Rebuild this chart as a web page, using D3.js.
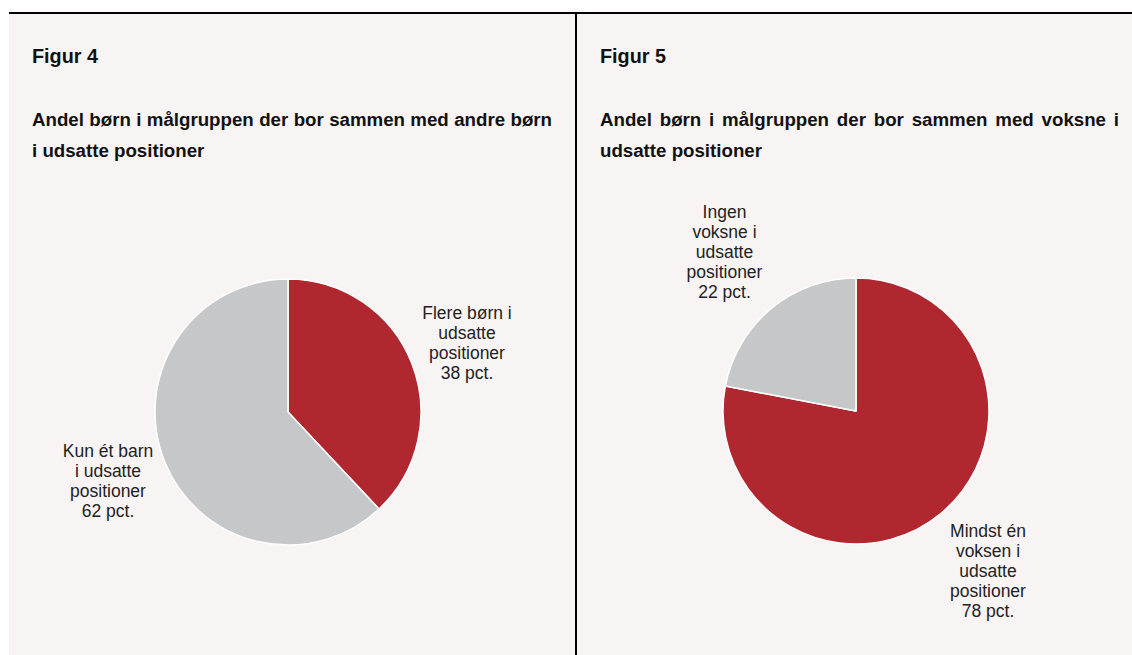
<!DOCTYPE html>
<html>
<head>
<meta charset="utf-8">
<script src="https://cdn.jsdelivr.net/npm/d3@7/dist/d3.min.js"></script>
<style>
  html, body { margin: 0; padding: 0; background: #ffffff; }
  svg { display: block; }
</style>
</head>
<body>
<svg id="chart" width="1132" height="655"></svg>
<script>
// ---- Data ----
const figureNames = ["Figur 4", "Figur 5"];
const figureTitles = [
  ["Andel børn i målgruppen der bor sammen med andre børn", "i udsatte positioner"],
  ["Andel børn i målgruppen der bor sammen med voksne i", "udsatte positioner"]
];
const fig4Categories = ["Flere børn i udsatte positioner", "Kun ét barn i udsatte positioner"];
const fig4Values = [38, 62];
const fig4Labels = [
  ["Flere børn i", "udsatte", "positioner", "38 pct."],
  ["Kun ét barn", "i udsatte", "positioner", "62 pct."]
];
const fig5Categories = ["Mindst én voksen i udsatte positioner", "Ingen voksne i udsatte positioner"];
const fig5Values = [78, 22];
const fig5Labels = [
  ["Mindst én", "voksen i", "udsatte", "positioner", "78 pct."],
  ["Ingen", "voksne i", "udsatte", "positioner", "22 pct."]
];
const sliceColors = ["#b0272f", "#c6c7c9"];

// ---- Layout ----
const svg = d3.select("#chart");
const W = 1132, H = 655;
const bg = "#f8f4f3";

svg.append("rect").attr("x", 9).attr("y", 13).attr("width", W - 9).attr("height", H - 13).attr("fill", bg);
svg.append("line").attr("x1", 9).attr("x2", W).attr("y1", 13).attr("y2", 13)
  .attr("stroke", "#000").attr("stroke-width", 2);
svg.append("line").attr("x1", 576).attr("x2", 576).attr("y1", 13).attr("y2", H)
  .attr("stroke", "#000").attr("stroke-width", 2);

const panels = [
  { x0: 32, right: 552, cx: 288, cy: 412, values: fig4Values, cats: fig4Categories, labels: fig4Labels,
    labelPos: [{x: 467, y: 319}, {x: 108, y: 457}] },
  { x0: 600, right: 1119, cx: 856, cy: 411, values: fig5Values, cats: fig5Categories, labels: fig5Labels,
    labelPos: [{x: 988, y: 537}, {x: 724.5, y: 218}] }
];

const radius = 133;
const pie = d3.pie().sort(null).value(d => d);
const arc = d3.arc().innerRadius(0).outerRadius(radius);
const font = "'Liberation Sans', Arial, Helvetica, sans-serif";

panels.forEach((p, i) => {
  const g = svg.append("g");
  g.append("text").attr("x", p.x0).attr("y", 63)
    .attr("font-family", font).attr("font-weight", "bold").attr("font-size", 19.8)
    .attr("fill", "#111").text(figureNames[i]);

  figureTitles[i].forEach((line, j) => {
    const t = g.append("text").attr("x", p.x0).attr("y", 126 + j * 31)
      .attr("font-family", font).attr("font-weight", "bold").attr("font-size", 18.7)
      .attr("fill", "#111").text(line);
    if (j === 0) {
      const words = line.split(" ").length - 1;
      const w = t.node().getComputedTextLength();
      const extra = (p.right - p.x0 - w) / words;
      t.attr("word-spacing", extra);
    }
  });

  const pg = g.append("g").attr("transform", `translate(${p.cx},${p.cy})`);
  pg.selectAll("path").data(pie(p.values)).join("path")
    .attr("d", arc)
    .attr("fill", (d, k) => sliceColors[k])
    .attr("stroke", "#ffffff").attr("stroke-width", 1.5)
    .attr("stroke-linejoin", "round");

  p.labels.forEach((lines, k) => {
    const t = g.append("text").attr("text-anchor", "middle")
      .attr("font-family", font).attr("font-size", 17.5).attr("fill", "#222");
    lines.forEach((ln, m) => {
      t.append("tspan").attr("x", p.labelPos[k].x).attr("y", p.labelPos[k].y + m * 20).text(ln);
    });
  });
});
</script>
</body>
</html>
